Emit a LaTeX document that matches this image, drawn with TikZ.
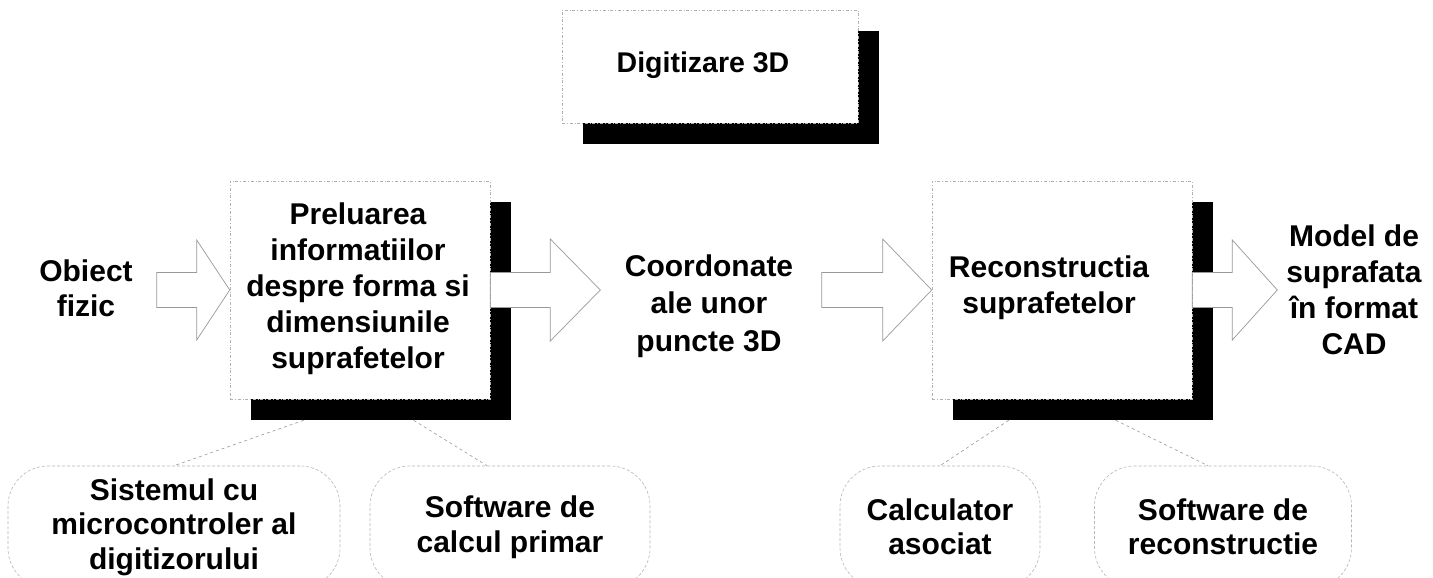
\documentclass[tikz,border=0pt]{standalone}
\usepackage{fontspec}
\setmainfont{Liberation Sans}
\usetikzlibrary{shadows,calc}
\begin{document}
\begin{tikzpicture}[x=1pt,y=-1pt,
  txt/.style={font=\bfseries\fontsize{30}{36}\selectfont, align=center, inner sep=0pt},
  boxnode/.style={draw=black!30, line width=0.6pt, dash dot, fill=white, inner sep=0pt,
    drop shadow={shadow xshift=21pt, shadow yshift=-21pt, fill=black, opacity=1, draw=none}},
  blk/.style={draw=black!40, line width=0.7pt, fill=white},
  mech/.style={draw=black!28, densely dashed, line width=0.6pt, rounded corners=40pt,
    inner sep=0pt, minimum height=122pt, font=\bfseries\fontsize{30}{34.5}\selectfont, align=center},
  conn/.style={draw=black!40, dashed, line width=0.6pt}]
\fill[white] (0,0) rectangle (1433,578);
\useasboundingbox (0,0) rectangle (1433,578);

% boxes
\node[boxnode, minimum width=296pt, minimum height=113pt] (dig) at (710,66.5) {};
\node[txt, font=\bfseries\fontsize{28.5}{34}\selectfont] (digt) at (703,65) {Digitizare 3D};
\node[boxnode, minimum width=260pt, minimum height=218pt] (b1) at (360,290) {};
\node[txt] (b1t) at (358,289) {Preluarea\\informatiilor\\despre forma si\\dimensiunile\\suprafetelor};
\node[boxnode, minimum width=260pt, minimum height=218pt] (b2) at (1062,290) {};
\node[txt] (b2t) at (1049,288) {Reconstructia\\suprafetelor};

% side texts
\node[txt, font=\bfseries\fontsize{30}{35}\selectfont] (obj) at (86,288) {Obiect\\fizic};
\node[txt, font=\bfseries\fontsize{30}{37.5}\selectfont] (coord) at (709,306) {Coordonate\\ale unor\\puncte 3D};
\node[txt] (model) at (1354,290) {Model de\\suprafata\\în format\\CAD};

% block arrows
\draw[blk] ($(b1.west)+(-73,-17.5)$) -- ($(b1.west)+(-33,-17.5)$) -- ($(b1.west)+(-33,-50)$)
  -- (b1.west) -- ($(b1.west)+(-33,50)$) -- ($(b1.west)+(-33,17.5)$) -- ($(b1.west)+(-73,17.5)$) -- cycle;
\draw[blk] (b1.east) ++(0,-17.5) -- ($(b1.east)+(60,-17.5)$) -- ($(b1.east)+(60,-51)$)
  -- ($(b1.east)+(110,0)$) -- ($(b1.east)+(60,51)$) -- ($(b1.east)+(60,17.5)$) -- ($(b1.east)+(0,17.5)$) -- cycle;
\draw[blk] ($(b2.west)+(-110,-17.5)$) -- ($(b2.west)+(-49,-17.5)$) -- ($(b2.west)+(-49,-51)$)
  -- (b2.west) -- ($(b2.west)+(-49,51)$) -- ($(b2.west)+(-49,17.5)$) -- ($(b2.west)+(-110,17.5)$) -- cycle;
\draw[blk] (b2.east) ++(0,-17.5) -- ($(b2.east)+(40,-17.5)$) -- ($(b2.east)+(40,-50)$)
  -- ($(b2.east)+(85,0)$) -- ($(b2.east)+(40,50)$) -- ($(b2.east)+(40,17.5)$) -- ($(b2.east)+(0,17.5)$) -- cycle;

% mechanisms
\node[mech, minimum width=332pt] (mA) at (174,527) {Sistemul cu\\microcontroler al\\digitizorului};
\node[mech, minimum width=280pt] (mB) at (510,527) {Software de\\calcul primar};
\node[mech, minimum width=200pt] (mC) at (940,527) {Calculator\\asociat};
\node[mech, minimum width=257pt] (mD) at (1223,527) {Software de\\reconstructie};

\draw[conn] ([shift={(74,21)}]b1.south west) -- (mA.north);
\draw[conn] ([shift={(184,21)}]b1.south west) -- ([xshift=-23pt]mB.north);
\draw[conn] ([shift={(77,21)}]b2.south west) -- (mC.north);
\draw[conn] ([shift={(184,21)}]b2.south west) -- ([xshift=-15pt]mD.north);
\end{tikzpicture}
\end{document}
